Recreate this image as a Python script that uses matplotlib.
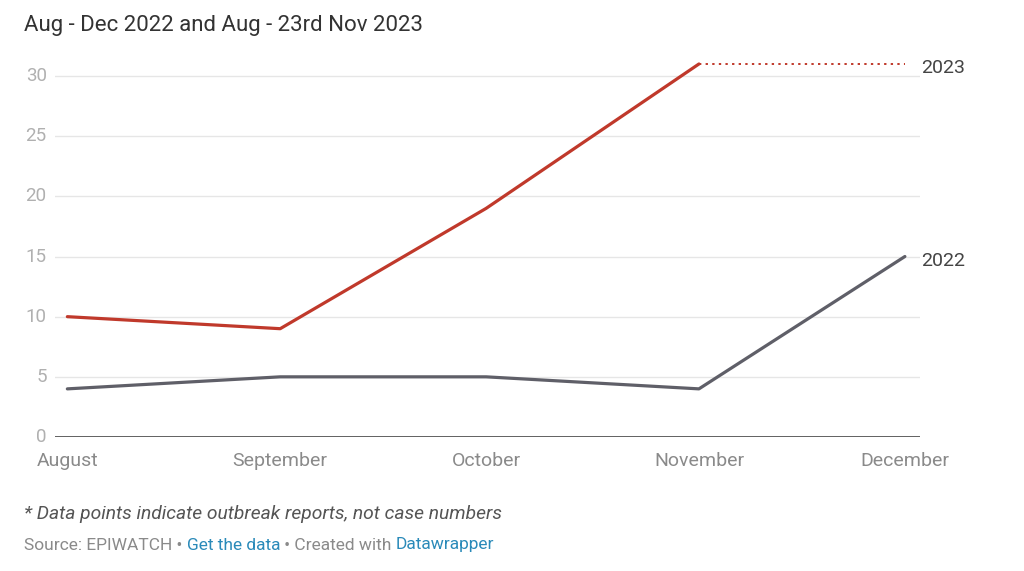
import matplotlib
matplotlib.use("Agg")
import matplotlib.pyplot as plt
import matplotlib.dates as mdates
from datetime import date

plt.rcParams['font.family'] = ['Roboto', 'DejaVu Sans']

months = ["August", "September", "October", "November", "December"]
month_dates = [date(2022, 8, 1), date(2022, 9, 1), date(2022, 10, 1), date(2022, 11, 1), date(2022, 12, 1)]
values_2022 = [4, 5, 5, 4, 15]
values_2023 = [10, 9, 19, 31]
projection_2023 = [31, 31]  # dotted continuation Nov -> Dec
yticks = [0, 5, 10, 15, 20, 25, 30]

title = "Aug - Dec 2022 and Aug - 23rd Nov 2023"
note = "* Data points indicate outbreak reports, not case numbers"

RED = "#c0392b"
GREY = "#5f5f68"

fig = plt.figure(figsize=(10.24, 5.71), dpi=100)
ax = fig.add_axes([55/1024, 1 - 437/571, (920 - 55)/1024, (437 - 60)/571])

x = mdates.date2num(month_dates)
ax.plot(x, values_2022, color=GREY, lw=2.3, solid_capstyle='round', zorder=3)
ax.plot(x[:4], values_2023, color=RED, lw=2.3, solid_capstyle='round', zorder=3)
ax.plot(x[3:5], projection_2023, color=RED, lw=1.4, ls=(0, (1.2, 2.2)), zorder=3)

ax.set_xlim(x[0] - 1.8, x[-1] + 2.2)
ax.set_ylim(0, 31.33)

ax.set_yticks(yticks)
ax.set_yticklabels([str(v) for v in yticks])
ax.set_xticks(x)
ax.set_xticklabels(months)

for s in ax.spines.values():
    s.set_visible(False)
ax.grid(axis='y', color='#e6e6e6', lw=1, zorder=0)
ax.grid(axis='x', visible=False)
ax.axhline(0, color='#555555', lw=1.3, zorder=2)
ax.tick_params(axis='y', length=0, pad=6, labelsize=13.5, labelcolor='#b0b0b0')
ax.tick_params(axis='x', length=0, pad=11, labelsize=14, labelcolor='#8a8a8a')
for lbl in ax.get_yticklabels():
    lbl.set_va('center')

ax.annotate("2023", xy=(x[-1] + 2.2, values_2023[-1]), xytext=(1, -4), textcoords='offset pixels',
            color='#444444', fontsize=14, va='center', ha='left', annotation_clip=False)
ax.annotate("2022", xy=(x[-1] + 2.2, values_2022[-1]), xytext=(1, -4), textcoords='offset pixels',
            color='#444444', fontsize=14, va='center', ha='left', annotation_clip=False)

fig.text(24/1024, 1 - 26/571, title, fontsize=16, color='#333333', va='center', ha='left')
fig.text(24/1024, 1 - 514/571, note, fontsize=13.9, color='#555555', style='italic', va='center', ha='left')

# Source line with coloured links
parts = [("Source: EPIWATCH • ", '#8a8a8a'), ("Get the data", '#2a8ab9'),
         (" • Created with ", '#8a8a8a'), ("Datawrapper", '#2a8ab9')]
fig.canvas.draw()
renderer = fig.canvas.get_renderer()
xpos = 24/1024
for txt, col in parts:
    t = fig.text(xpos, 1 - 545/571, txt, fontsize=12.5, color=col, va='center', ha='left')
    bb = t.get_window_extent(renderer=renderer)
    xpos += bb.width / fig.bbox.width

fig.savefig("out.png", dpi=100, facecolor='white')
